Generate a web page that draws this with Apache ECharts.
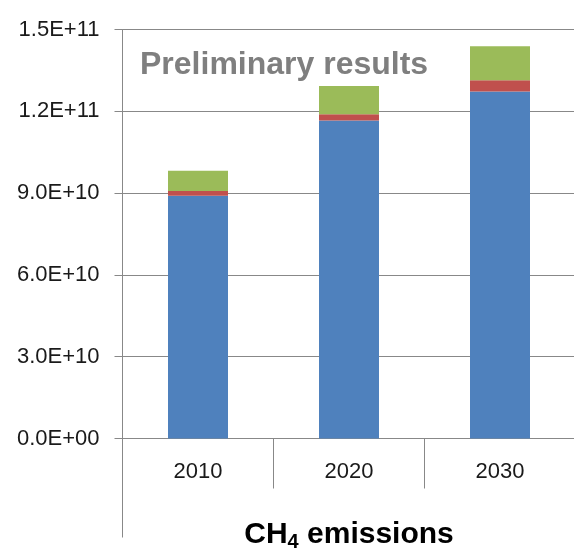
<!DOCTYPE html>
<html>
<head>
<meta charset="utf-8">
<script src="https://cdn.jsdelivr.net/npm/echarts@6/dist/echarts.min.js"></script>
<style>html,body{margin:0;padding:0;background:#fff}#c{width:574px;height:554px}</style>
</head>
<body>
<div id="c"></div>
<script>
const categories = ['2010', '2020', '2030'];
const blueValues = [89.0e9, 116.6e9, 127.3e9];
const redValues = [1.8e9, 2.3e9, 4.1e9];
const greenValues = [7.4e9, 10.4e9, 12.5e9];
const yTickLabels = ['0.0E+00', '3.0E+10', '6.0E+10', '9.0E+10', '1.2E+11', '1.5E+11'];
const yMax = 1.5e11;
const yStep = 3e10;

const FONT = 'Liberation Sans';
const GRAY = '#888888';

const chart = echarts.init(document.getElementById('c'), null, {renderer: 'canvas'});
chart.setOption({
  animation: false,
  backgroundColor: '#ffffff',
  title: {
    text: 'Preliminary results',
    left: 140,
    top: 49,
    padding: 0,
    textStyle: {fontFamily: FONT, fontSize: 32, fontWeight: 'bold', color: '#7f7f7f'}
  },
  grid: {left: 122.5, top: 29.5, width: 453, height: 409, containLabel: false, outerBoundsMode: 'none'},
  xAxis: [{
    type: 'category',
    position: 'bottom',
    data: categories,
    axisLine: {show: true, lineStyle: {color: GRAY, width: 1}},
    axisTick: {show: true, length: 50, interval: function (i) { return i > 0; }, lineStyle: {color: GRAY}},
    axisLabel: {fontFamily: FONT, fontSize: 22, color: '#1a1a1a', margin: 22},
    splitLine: {show: false},
    name: 'CH{sub|4} emissions',
    nameLocation: 'middle',
    nameGap: 78,
    nameTextStyle: {
      fontFamily: FONT, fontSize: 30, fontWeight: 'bold', color: '#000', lineHeight: 36,
      rich: {sub: {fontFamily: FONT, fontSize: 20, fontWeight: 'bold', color: '#000', lineHeight: 20, verticalAlign: 'bottom'}}
    }
  }, {
    type: 'category',
    position: 'bottom',
    data: categories,
    axisLine: {show: false},
    axisTick: {show: true, length: 99, interval: function (i) { return i === 0; }, lineStyle: {color: GRAY}},
    axisLabel: {show: false},
    splitLine: {show: false}
  }],
  yAxis: {
    type: 'value',
    min: 0,
    max: yMax,
    interval: yStep,
    axisLine: {show: true, lineStyle: {color: GRAY, width: 1}},
    axisTick: {show: true, length: 8, lineStyle: {color: GRAY}},
    axisLabel: {
      fontFamily: FONT, fontSize: 22, color: '#1a1a1a', margin: 23,
      formatter: function (v) { return yTickLabels[Math.round(v / yStep)]; }
    },
    splitLine: {show: true, lineStyle: {color: GRAY, width: 1}}
  },
  series: [
    {name: 'a', type: 'bar', stack: 't', xAxisIndex: 0, data: blueValues, barWidth: 60, itemStyle: {color: '#4F81BD'}},
    {name: 'b', type: 'bar', stack: 't', xAxisIndex: 0, data: redValues, barWidth: 60, itemStyle: {color: '#C0504D'}},
    {name: 'c', type: 'bar', stack: 't', xAxisIndex: 0, data: greenValues, barWidth: 60, itemStyle: {color: '#9BBB59'}}
  ]
});
</script>
</body>
</html>
